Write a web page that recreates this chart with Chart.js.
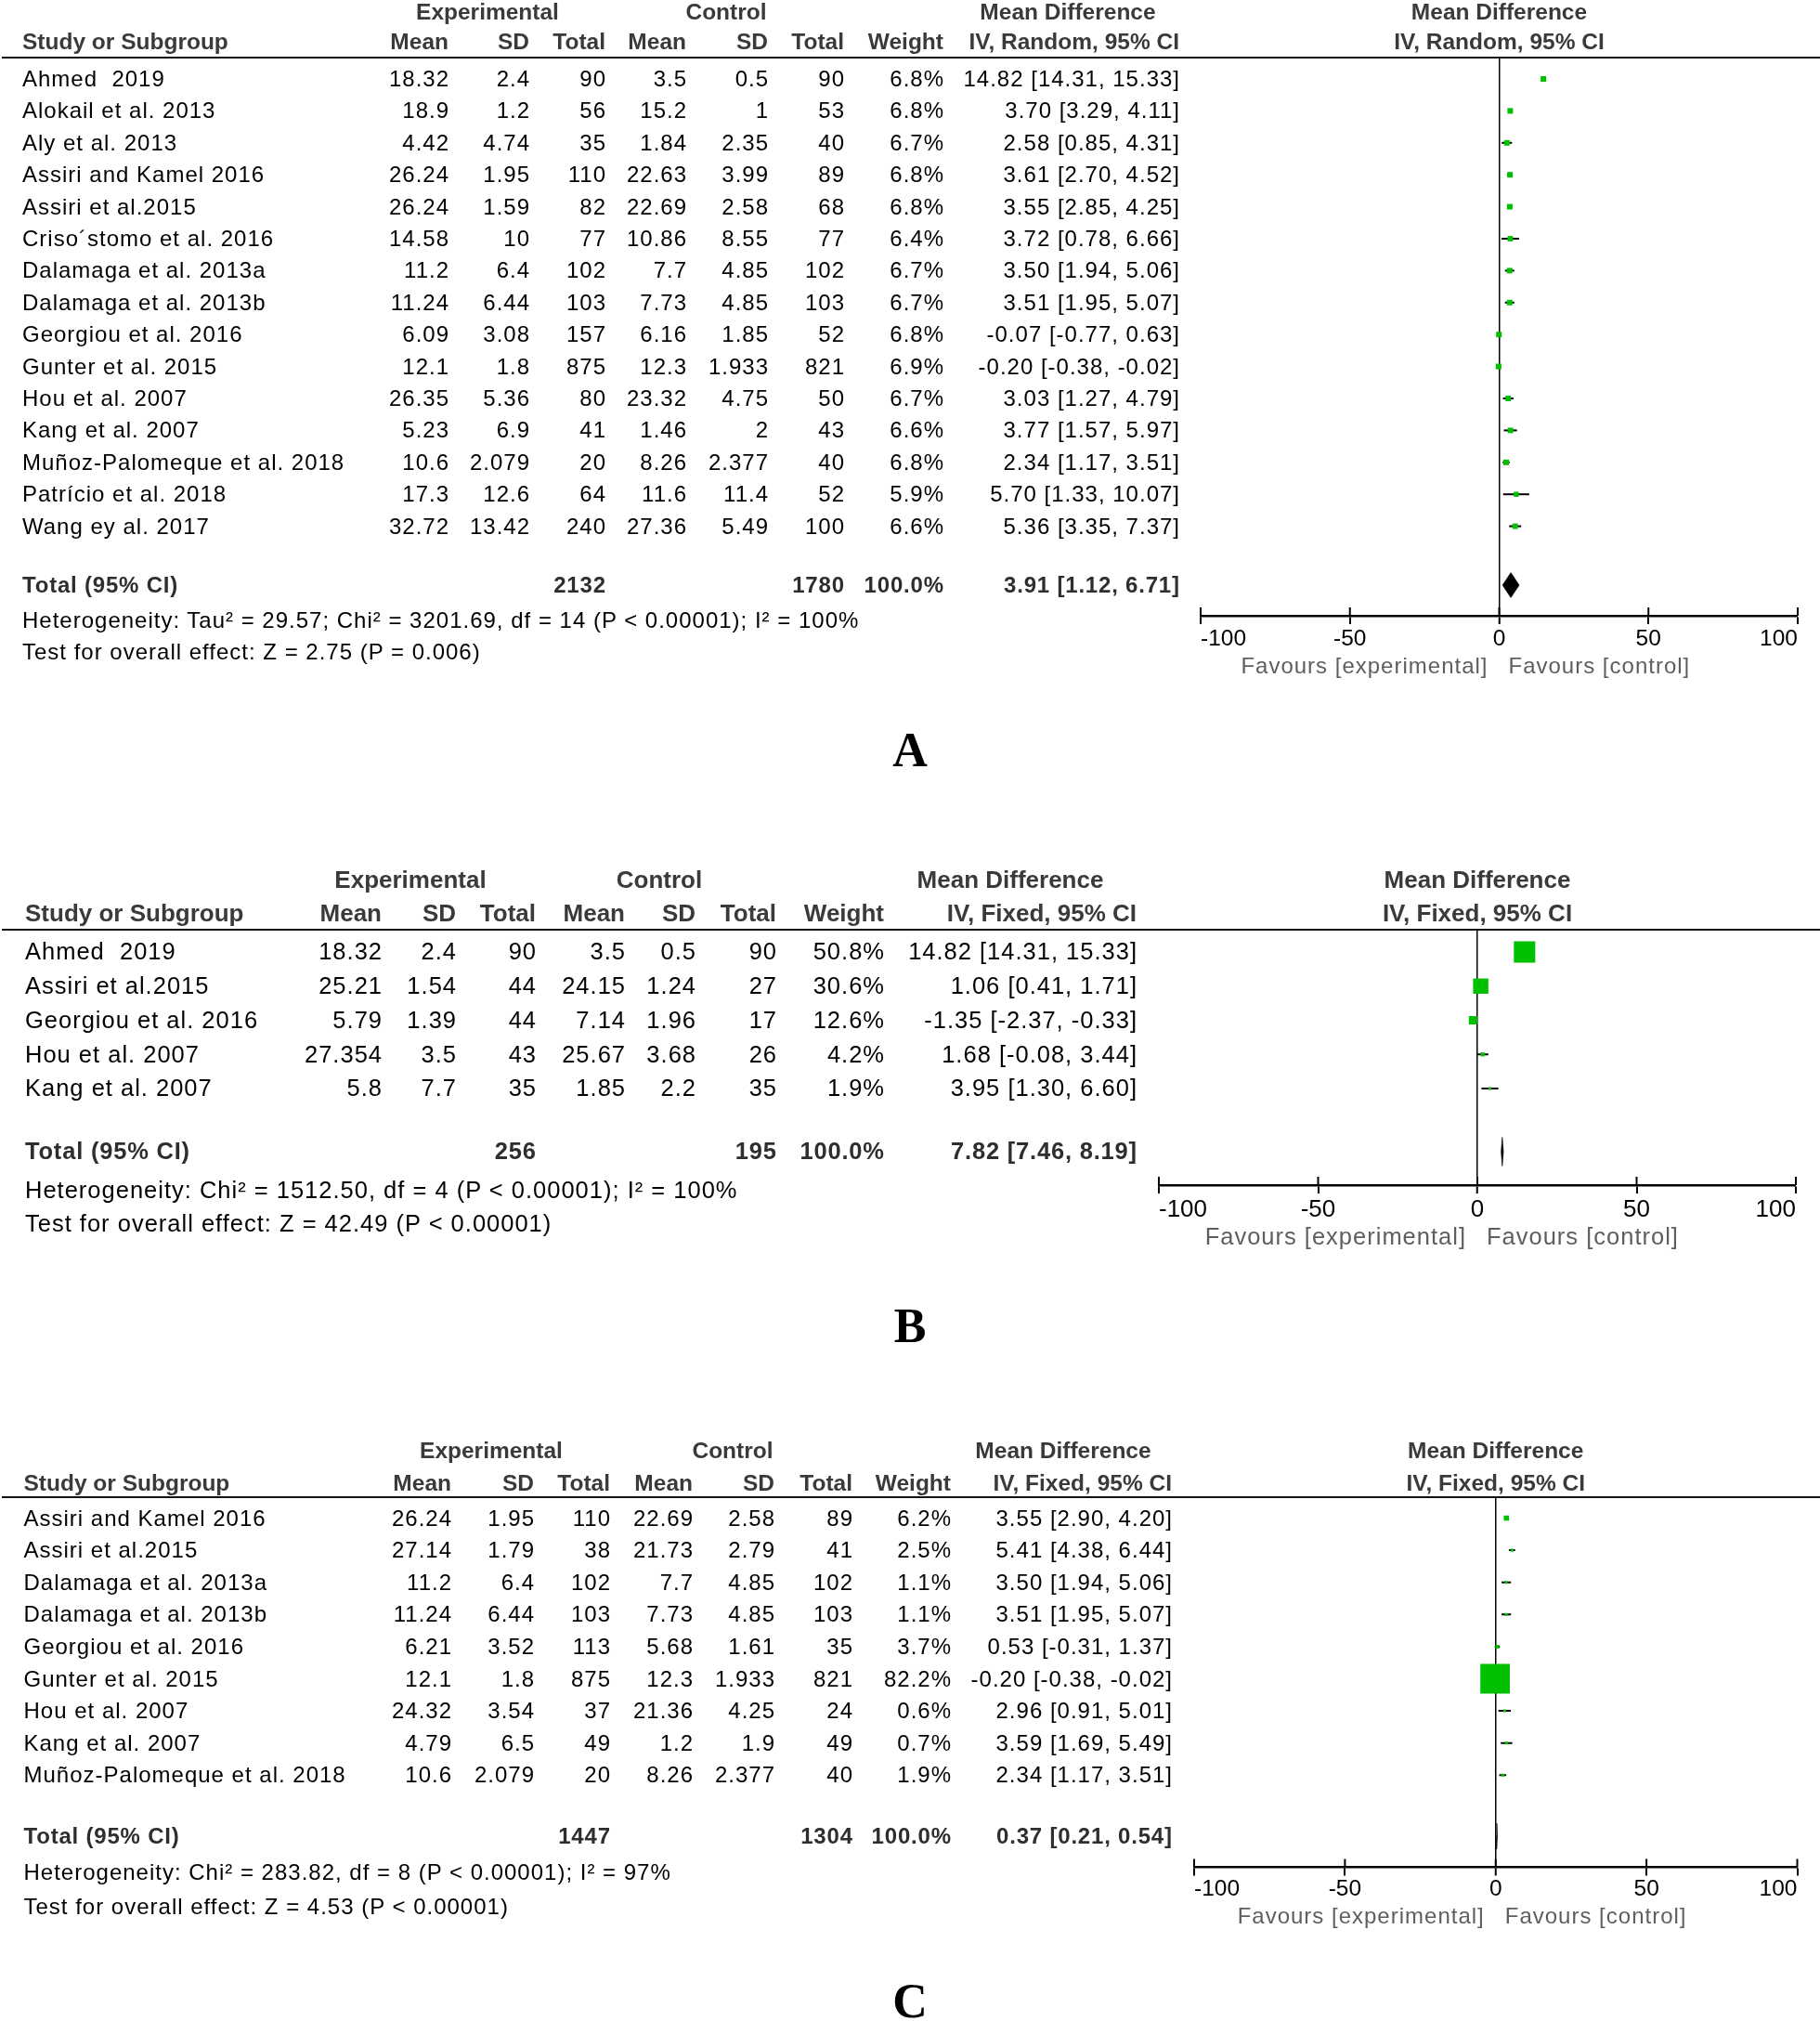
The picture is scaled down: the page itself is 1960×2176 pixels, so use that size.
<!DOCTYPE html>
<html><head><meta charset="utf-8">
<script src="https://cdn.jsdelivr.net/npm/chart.js@4.4.1/dist/chart.umd.min.js"></script>
<style>
html,body{margin:0;padding:0;background:#fff;}
#page{position:relative;width:1960px;height:2176px;overflow:hidden;background:#fff;}
#page canvas{position:absolute;left:0;top:0;}
.t{position:absolute;white-space:pre;font-family:"Liberation Sans",Arial,sans-serif;color:#000;}
</style></head><body><div id="page"></div>
<script>
// ================= DATA =================
const xTicks = [-100, -50, 0, 50, 100];
const favourLabels = ['Favours [experimental]', 'Favours [control]'];

// ---- Panel A ----
const studiesA = ['Ahmed  2019','Alokail et al. 2013','Aly et al. 2013','Assiri and Kamel 2016','Assiri et al.2015','Criso\u00b4stomo et al. 2016','Dalamaga et al. 2013a','Dalamaga et al. 2013b','Georgiou et al. 2016','Gunter et al. 2015','Hou et al. 2007','Kang et al. 2007','Muñoz-Palomeque et al. 2018','Patrício et al. 2018','Wang ey al. 2017'];
const expMeanA = [18.32,18.9,4.42,26.24,26.24,14.58,11.2,11.24,6.09,12.1,26.35,5.23,10.6,17.3,32.72];
const expSDA   = [2.4,1.2,4.74,1.95,1.59,10,6.4,6.44,3.08,1.8,5.36,6.9,2.079,12.6,13.42];
const expNA    = [90,56,35,110,82,77,102,103,157,875,80,41,20,64,240];
const ctlMeanA = [3.5,15.2,1.84,22.63,22.69,10.86,7.7,7.73,6.16,12.3,23.32,1.46,8.26,11.6,27.36];
const ctlSDA   = [0.5,1,2.35,3.99,2.58,8.55,4.85,4.85,1.85,1.933,4.75,2,2.377,11.4,5.49];
const ctlNA    = [90,53,40,89,68,77,102,103,52,821,50,43,40,52,100];
const weightA  = [6.8,6.8,6.7,6.8,6.8,6.4,6.7,6.7,6.8,6.9,6.7,6.6,6.8,5.9,6.6];
const mdA      = [14.82,3.70,2.58,3.61,3.55,3.72,3.50,3.51,-0.07,-0.20,3.03,3.77,2.34,5.70,5.36];
const loA      = [14.31,3.29,0.85,2.70,2.85,0.78,1.94,1.95,-0.77,-0.38,1.27,1.57,1.17,1.33,3.35];
const hiA      = [15.33,4.11,4.31,4.52,4.25,6.66,5.06,5.07,0.63,-0.02,4.79,5.97,3.51,10.07,7.37];
const totalsA  = [2132, 1780, 100.0];
const pooledA  = [3.91, 1.12, 6.71];
const methodA  = 'IV, Random, 95% CI';
const hetA     = 'Heterogeneity: Tau² = 29.57; Chi² = 3201.69, df = 14 (P < 0.00001); I² = 100%';
const testA    = 'Test for overall effect: Z = 2.75 (P = 0.006)';

// ---- Panel B ----
const studiesB = ['Ahmed  2019','Assiri et al.2015','Georgiou et al. 2016','Hou et al. 2007','Kang et al. 2007'];
const expMeanB = [18.32,25.21,5.79,27.354,5.8];
const expSDB   = [2.4,1.54,1.39,3.5,7.7];
const expNB    = [90,44,44,43,35];
const ctlMeanB = [3.5,24.15,7.14,25.67,1.85];
const ctlSDB   = [0.5,1.24,1.96,3.68,2.2];
const ctlNB    = [90,27,17,26,35];
const weightB  = [50.8,30.6,12.6,4.2,1.9];
const mdB      = [14.82,1.06,-1.35,1.68,3.95];
const loB      = [14.31,0.41,-2.37,-0.08,1.30];
const hiB      = [15.33,1.71,-0.33,3.44,6.60];
const totalsB  = [256, 195, 100.0];
const pooledB  = [7.82, 7.46, 8.19];
const methodB  = 'IV, Fixed, 95% CI';
const hetB     = 'Heterogeneity: Chi² = 1512.50, df = 4 (P < 0.00001); I² = 100%';
const testB    = 'Test for overall effect: Z = 42.49 (P < 0.00001)';

// ---- Panel C ----
const studiesC = ['Assiri and Kamel 2016','Assiri et al.2015','Dalamaga et al. 2013a','Dalamaga et al. 2013b','Georgiou et al. 2016','Gunter et al. 2015','Hou et al. 2007','Kang et al. 2007','Muñoz-Palomeque et al. 2018'];
const expMeanC = [26.24,27.14,11.2,11.24,6.21,12.1,24.32,4.79,10.6];
const expSDC   = [1.95,1.79,6.4,6.44,3.52,1.8,3.54,6.5,2.079];
const expNC    = [110,38,102,103,113,875,37,49,20];
const ctlMeanC = [22.69,21.73,7.7,7.73,5.68,12.3,21.36,1.2,8.26];
const ctlSDC   = [2.58,2.79,4.85,4.85,1.61,1.933,4.25,1.9,2.377];
const ctlNC    = [89,41,102,103,35,821,24,49,40];
const weightC  = [6.2,2.5,1.1,1.1,3.7,82.2,0.6,0.7,1.9];
const mdC      = [3.55,5.41,3.50,3.51,0.53,-0.20,2.96,3.59,2.34];
const loC      = [2.90,4.38,1.94,1.95,-0.31,-0.38,0.91,1.69,1.17];
const hiC      = [4.20,6.44,5.06,5.07,1.37,-0.02,5.01,5.49,3.51];
const totalsC  = [1447, 1304, 100.0];
const pooledC  = [0.37, 0.21, 0.54];
const methodC  = 'IV, Fixed, 95% CI';
const hetC     = 'Heterogeneity: Chi² = 283.82, df = 8 (P < 0.00001); I² = 97%';
const testC    = 'Test for overall effect: Z = 4.53 (P < 0.00001)';

// ================= LAYOUT (positions / styles) =================
const W = 1960, H = 2176;
const FONT = '"Liberation Sans", Arial, sans-serif';
const SERIF = '"Liberation Serif", "Times New Roman", serif';
const GREEN = 'rgb(0,192,0)';
const HEAD = '#3a3a3a';
const FAV = '#5e5e5e';
const AXH = 60;
const LS = 1;      // letter spacing of regular text
const LSB = 0.8;   // letter spacing of the bold total row

const layoutA = {fs:24, hfs:24.5, groupY:13, colY:45, lineY:62, row0:85, rowStep:34.4, totalY:630, hetY:668, testY:702,
  axisY:663, xL:1293, xR:1936, favY:717, letterY:808, diamondH:13.5, tickPad:2,
  name:24, expMean:483, expSD:570, expN:652, ctlMean:739, ctlSD:827, ctlN:909, w:1016, ci:1270, expC:525, ctlC:782, mdC:1150, letter:'A'};
const layoutB = {fs:25.5, hfs:26, groupY:947, colY:983, lineY:1001, row0:1025, rowStep:36.75, totalY:1240, hetY:1282, testY:1318,
  axisY:1276, xL:1248, xR:1934, favY:1332, letterY:1428, diamondH:15.5, tickPad:2,
  name:27, expMean:411, expSD:491, expN:577, ctlMean:673, ctlSD:749, ctlN:836, w:952, ci:1224, expC:442, ctlC:710, mdC:1088, letter:'B'};
const layoutC = {fs:24, hfs:24.5, groupY:1562, colY:1597, lineY:1612, row0:1634.5, rowStep:34.6, totalY:1977, hetY:2016, testY:2053,
  axisY:2010.5, xL:1286, xR:1935.5, favY:2063, letterY:2155, diamondH:14, tickPad:0,
  name:25.5, expMean:486, expSD:575, expN:657, ctlMean:746, ctlSD:834, ctlN:918, w:1024, ci:1262, expC:529, ctlC:789, mdC:1145, letter:'C'};

const page = document.getElementById('page');

function addText(str, x, y, o) {
  const d = document.createElement('div');
  d.className = 't';
  d.textContent = str;
  const fs = o.fs;
  const ls = o.ls || 0;
  d.style.fontSize = fs + 'px';
  d.style.lineHeight = fs + 'px';
  d.style.top = (y - fs / 2) + 'px';
  if (ls) d.style.letterSpacing = ls + 'px';
  if (o.bold) d.style.fontWeight = 'bold';
  if (o.color) d.style.color = o.color;
  if (o.family) d.style.fontFamily = o.family;
  if (o.align === 'right') d.style.right = (W - x - ls) + 'px';
  else if (o.align === 'center') { d.style.left = x + 'px'; d.style.transform = 'translateX(-50%)'; }
  else d.style.left = x + 'px';
  page.appendChild(d);
  return d;
}

function sideFor(w) { return Math.max(3, 1.67 * Math.pow(w, 0.668)); }
const fmt2 = v => v.toFixed(2);
const ciStr = (m, l, h) => fmt2(m) + ' [' + fmt2(l) + ', ' + fmt2(h) + ']';

const tickCross = {
  id: 'tickCross',
  afterDraw(chart) {
    const s = chart.scales.x, ctx = chart.ctx;
    ctx.save();
    ctx.strokeStyle = '#000';
    ctx.lineWidth = 2;
    s.ticks.forEach((t, i) => {
      const px = s.getPixelForTick(i);
      ctx.beginPath();
      ctx.moveTo(px, s.top);
      ctx.lineTo(px, s.top - 9);
      ctx.stroke();
    });
    ctx.restore();
  }
};

function buildPanel(p) {
  const L = p.layout;
  const n = p.studies.length;
  const canvas = document.createElement('canvas');
  canvas.width = W; canvas.height = H;
  canvas.style.width = W + 'px'; canvas.style.height = H + 'px';
  page.appendChild(canvas);

  const yMin = (L.lineY - L.row0) / L.rowStep;
  const yMax = (L.axisY - L.row0) / L.rowStep;
  const totalRow = (L.totalY - L.row0) / L.rowStep;
  const dh = L.diamondH / L.rowStep;

  const datasets = [];
  for (let i = 0; i < n; i++) {
    datasets.push({type: 'line', data: [{x: p.lo[i], y: i}, {x: p.hi[i], y: i}],
      borderColor: '#000', borderWidth: 2, pointRadius: 0, fill: false, order: 2});
  }
  datasets.push({type: 'scatter', data: p.md.map((v, i) => ({x: v, y: i})),
    pointStyle: 'rect', pointRadius: p.weight.map(w => sideFor(w) / Math.SQRT2),
    backgroundColor: GREEN, borderWidth: 0, order: 1});
  const pd = p.pooled;
  datasets.push({type: 'line', data: [{x: pd[1], y: totalRow}, {x: pd[0], y: totalRow - dh}, {x: pd[2], y: totalRow}, {x: pd[0], y: totalRow + dh}, {x: pd[1], y: totalRow}],
    borderColor: '#000', backgroundColor: '#000', borderWidth: 0.6, pointRadius: 0, fill: 'shape', tension: 0, order: 0});

  const chart = new Chart(canvas, {
    type: 'scatter',
    data: {datasets},
    plugins: [tickCross],
    options: {
      responsive: false, animation: false, events: [], devicePixelRatio: 1,
      layout: {padding: {left: L.xL, right: W - L.xR, top: L.lineY, bottom: H - L.axisY - AXH}},
      plugins: {legend: {display: false}, tooltip: {enabled: false}},
      scales: {
        x: {type: 'linear', position: 'bottom', min: -100, max: 100,
          afterBuildTicks: s => { s.ticks = xTicks.map(v => ({value: v})); },
          afterFit: s => { s.height = AXH; },
          border: {display: true, color: '#000', width: 2.5},
          grid: {drawOnChartArea: true,
            color: c => (c.tick && c.tick.value === 0) ? '#000' : 'rgba(0,0,0,0)',
            lineWidth: c => (c.tick && c.tick.value === 0) ? 1.5 : 0,
            drawTicks: true, tickLength: 9, tickColor: '#000', tickWidth: 2},
          ticks: {align: 'inner', maxRotation: 0, autoSkip: false, color: '#000', padding: L.tickPad,
            font: {family: FONT, size: L.fs + 0.5}}
        },
        y: {type: 'linear', display: false, min: yMin, max: yMax, reverse: true}
      }
    }
  });

  // ---- table text ----
  const ys = chart.scales.y, xs = chart.scales.x;
  const zeroPx = xs.getPixelForValue(0);
  const hOpt = a => ({fs: L.hfs, bold: true, color: HEAD, align: a});
  addText('Experimental', L.expC, L.groupY, hOpt('center'));
  addText('Control', L.ctlC, L.groupY, hOpt('center'));
  addText('Mean Difference', L.mdC, L.groupY, hOpt('center'));
  addText('Mean Difference', zeroPx, L.groupY, hOpt('center'));
  addText('Study or Subgroup', L.name, L.colY, hOpt('left'));
  addText('Mean', L.expMean, L.colY, hOpt('right'));
  addText('SD', L.expSD, L.colY, hOpt('right'));
  addText('Total', L.expN, L.colY, hOpt('right'));
  addText('Mean', L.ctlMean, L.colY, hOpt('right'));
  addText('SD', L.ctlSD, L.colY, hOpt('right'));
  addText('Total', L.ctlN, L.colY, hOpt('right'));
  addText('Weight', L.w, L.colY, hOpt('right'));
  addText(p.method, L.ci, L.colY, hOpt('right'));
  addText(p.method, zeroPx, L.colY, hOpt('center'));

  const line = document.createElement('div');
  line.style.cssText = 'position:absolute;left:2px;width:' + (W - 2) + 'px;height:2.5px;background:#111;top:' + (L.lineY - 1.25) + 'px;';
  page.appendChild(line);

  const r = {fs: L.fs, align: 'right', ls: LS};
  for (let i = 0; i < n; i++) {
    const y = ys.getPixelForValue(i);
    addText(p.studies[i], L.name, y, {fs: L.fs, ls: LS});
    addText(String(p.expMean[i]), L.expMean, y, r);
    addText(String(p.expSD[i]), L.expSD, y, r);
    addText(String(p.expN[i]), L.expN, y, r);
    addText(String(p.ctlMean[i]), L.ctlMean, y, r);
    addText(String(p.ctlSD[i]), L.ctlSD, y, r);
    addText(String(p.ctlN[i]), L.ctlN, y, r);
    addText(p.weight[i].toFixed(1) + '%', L.w, y, r);
    addText(ciStr(p.md[i], p.lo[i], p.hi[i]), L.ci, y, r);
  }
  const ty = ys.getPixelForValue(totalRow);
  const b = a => ({fs: L.fs, bold: true, color: '#2e2e2e', align: a, ls: LSB});
  addText('Total (95% CI)', L.name, ty, b('left'));
  addText(String(p.totals[0]), L.expN, ty, b('right'));
  addText(String(p.totals[1]), L.ctlN, ty, b('right'));
  addText(p.totals[2].toFixed(1) + '%', L.w, ty, b('right'));
  addText(ciStr(pd[0], pd[1], pd[2]), L.ci, ty, b('right'));
  addText(p.het, L.name, L.hetY, {fs: L.fs, ls: LS});
  addText(p.test, L.name, L.testY, {fs: L.fs, ls: LS});

  addText(favourLabels[0], zeroPx - 13, L.favY, {fs: L.fs, color: FAV, align: 'right', ls: LS});
  addText(favourLabels[1], zeroPx + 10, L.favY, {fs: L.fs, color: FAV, align: 'left', ls: LS});

  addText(L.letter, 980, L.letterY, {fs: 52, bold: true, family: SERIF, align: 'center'});
  return chart;
}

buildPanel({layout: layoutA, studies: studiesA, expMean: expMeanA, expSD: expSDA, expN: expNA, ctlMean: ctlMeanA, ctlSD: ctlSDA, ctlN: ctlNA,
  weight: weightA, md: mdA, lo: loA, hi: hiA, totals: totalsA, pooled: pooledA, method: methodA, het: hetA, test: testA});
buildPanel({layout: layoutB, studies: studiesB, expMean: expMeanB, expSD: expSDB, expN: expNB, ctlMean: ctlMeanB, ctlSD: ctlSDB, ctlN: ctlNB,
  weight: weightB, md: mdB, lo: loB, hi: hiB, totals: totalsB, pooled: pooledB, method: methodB, het: hetB, test: testB});
buildPanel({layout: layoutC, studies: studiesC, expMean: expMeanC, expSD: expSDC, expN: expNC, ctlMean: ctlMeanC, ctlSD: ctlSDC, ctlN: ctlNC,
  weight: weightC, md: mdC, lo: loC, hi: hiC, totals: totalsC, pooled: pooledC, method: methodC, het: hetC, test: testC});
</script>
</body></html>
